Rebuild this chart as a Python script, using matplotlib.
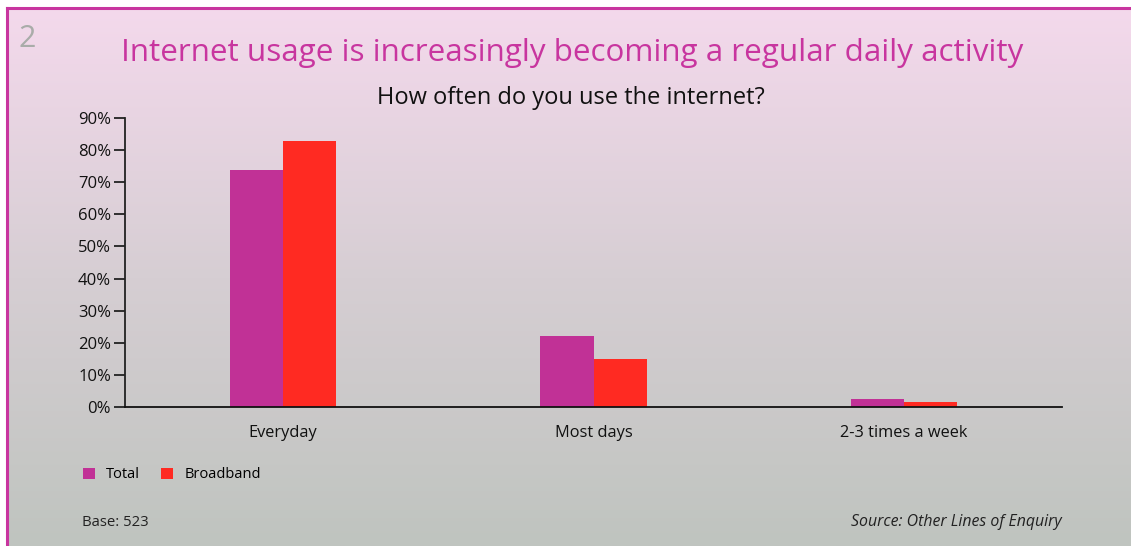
import numpy as np
import matplotlib.pyplot as plt
from matplotlib.colors import LinearSegmentedColormap
from matplotlib.lines import Line2D

plt.rcParams["font.family"] = ["Open Sans", "DejaVu Sans"]

categories = ["Everyday", "Most days", "2-3 times a week"]
total = [74, 22, 2.4]
broadband = [83, 15, 1.5]
series_names = ["Total", "Broadband"]
yticks = [0, 10, 20, 30, 40, 50, 60, 70, 80, 90]

MAGENTA = "#c13196"
RED = "#ff2a22"
TITLE_COL = "#c8359f"

W, H = 1131, 546
fig = plt.figure(figsize=(W / 100, H / 100), dpi=100)
fig.patch.set_facecolor("white")

# background panel with a vertical pink -> grey gradient
bg = fig.add_axes([7 / W, 0, 1 - 7 / W, 1 - 9 / H], zorder=-5)
cmap = LinearSegmentedColormap.from_list(
    "panel", [(0.0, "#bfc4bf"), (0.5, "#d6ced3"), (1.0, "#f4d9ec")]
)
grad = np.linspace(0, 1, 256).reshape(-1, 1)
bg.imshow(grad, aspect="auto", cmap=cmap, origin="lower", extent=[0, 1, 0, 1])
bg.set_axis_off()

# frame lines on the top and left edge
fig.add_artist(Line2D([7 / W, 1], [1 - 8 / H, 1 - 8 / H], transform=fig.transFigure,
                      color=TITLE_COL, lw=2.2))
fig.add_artist(Line2D([7 / W, 7 / W], [0, 1 - 8 / H], transform=fig.transFigure,
                      color=TITLE_COL, lw=2.2))

ax = fig.add_axes([125 / W, 1 - 406.7 / H, (1062 - 125) / W, (406.7 - 118.3) / H])
ax.set_facecolor("none")

x = np.arange(len(categories))
w = 0.171
ax.bar(x - w / 2, total, width=w, color=MAGENTA, label=series_names[0], zorder=2)
ax.bar(x + w / 2, broadband, width=w, color=RED, label=series_names[1], zorder=2)

ax.set_xlim(-0.51, 2.51)
ax.set_ylim(0, 90)
ax.set_yticks(yticks)
ax.set_yticklabels([f"{v}%" for v in yticks], fontsize=12)
ax.set_xticks(x)
ax.set_xticklabels(categories, fontsize=11.8)
ax.tick_params(axis="y", length=8, width=1.3, color="#222222", pad=2, labelcolor="#111111")
ax.tick_params(axis="x", length=0, pad=13, labelcolor="#111111")
for s in ["top", "right"]:
    ax.spines[s].set_visible(False)
ax.spines["left"].set_linewidth(1.3)
ax.spines["left"].set_color("#222222")
ax.spines["bottom"].set_linewidth(1.3)
ax.spines["bottom"].set_color("#111111")

fig.text(572 / W, 1 - 53 / H, "Internet usage is increasingly becoming a regular daily activity",
         ha="center", va="center", fontsize=22.6, color=TITLE_COL)
fig.text(571 / W, 1 - 98 / H, "How often do you use the internet?",
         ha="center", va="center", fontsize=17, color="#111111")
fig.text(19 / W, 1 - 39 / H, "2", ha="left", va="center", fontsize=22, color="#a9aca9")

fig.legend(loc="center left", bbox_to_anchor=(77 / W, 1 - 475 / H), ncol=2,
           frameon=False, fontsize=10.5, handlelength=0.8, handleheight=0.8,
           columnspacing=1.45, handletextpad=0.8, borderaxespad=0)

fig.text(82 / W, 1 - 522 / H, "Base: 523", ha="left", va="center", fontsize=10.7, color="#222222")
fig.text(1062 / W, 1 - 522 / H, "Source: Other Lines of Enquiry", ha="right", va="center",
         fontsize=11.4, style="italic", color="#222222")

fig.savefig("out.png", dpi=100)
